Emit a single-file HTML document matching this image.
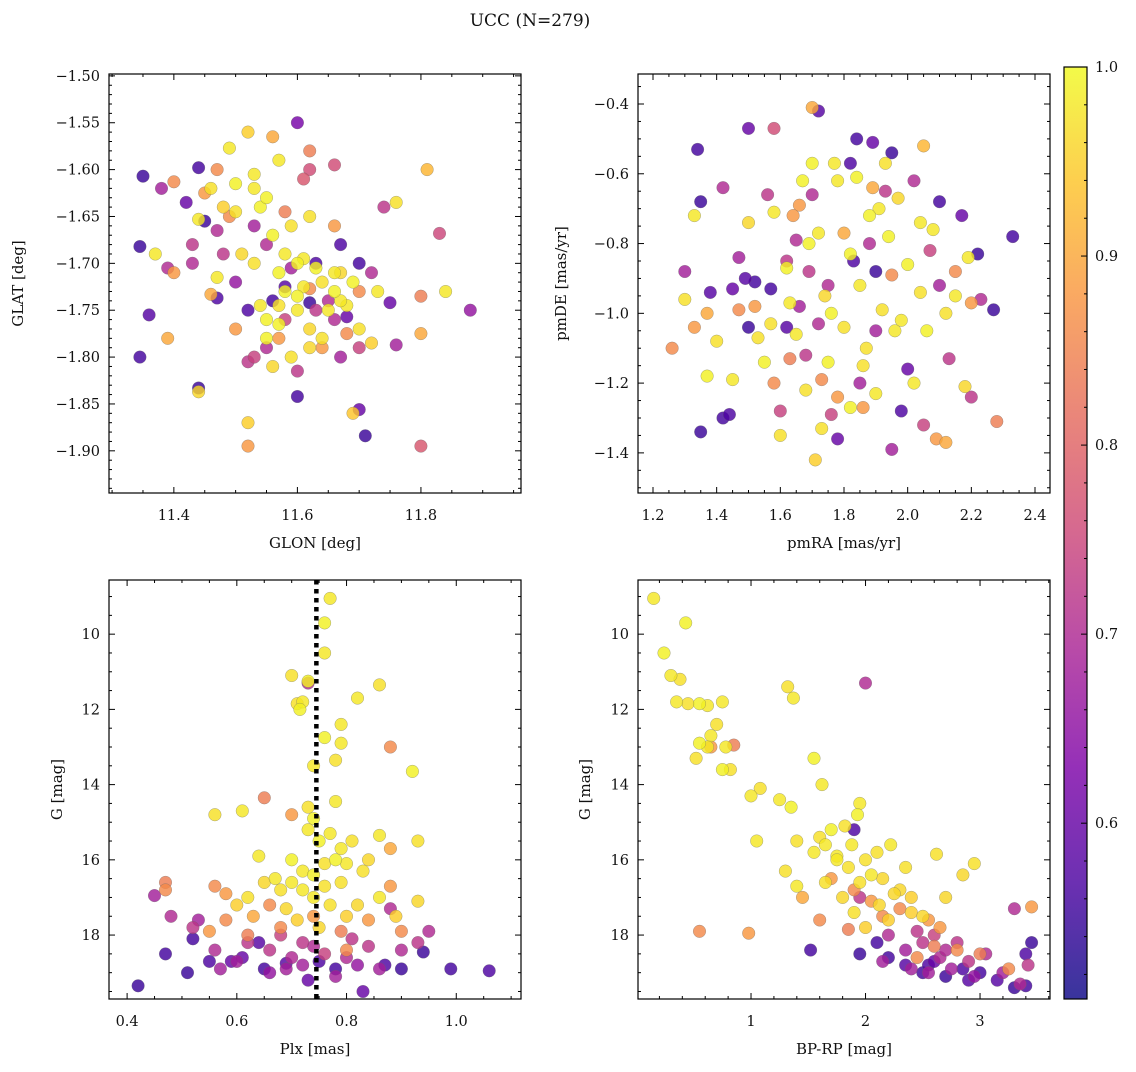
<!DOCTYPE html>
<html><head><meta charset="utf-8"><style>
html,body{margin:0;padding:0;background:#fff}
svg text{font-family:"DejaVu Serif","Liberation Serif",serif;fill:#111}
</style></head><body>
<svg id="chart" width="1136" height="1067" viewBox="0 0 1136 1067" xmlns="http://www.w3.org/2000/svg">
<text x="530" y="26" font-size="17" text-anchor="middle">UCC (N=279)</text>
</svg>
<script>
// ---- data: [x, y, membership probability] ----
const glonGlat = [
[11.35,-1.607,.55],[11.44,-1.598,.56],[11.345,-1.682,.55],[11.345,-1.80,.56],[11.36,-1.755,.58],[11.44,-1.833,.55],[11.47,-1.737,.57],[11.45,-1.655,.55],[11.42,-1.635,.6],[11.6,-1.842,.56],[11.71,-1.884,.55],[11.70,-1.856,.6],[11.67,-1.68,.57],[11.75,-1.742,.6],[11.88,-1.75,.66],[11.60,-1.55,.62],[11.62,-1.742,.55],[11.58,-1.725,.58],[11.52,-1.75,.57],[11.68,-1.757,.6],[11.70,-1.70,.56],[11.63,-1.70,.57],[11.56,-1.74,.56],
[11.38,-1.62,.68],[11.39,-1.705,.7],[11.43,-1.68,.72],[11.47,-1.665,.7],[11.50,-1.72,.66],[11.53,-1.80,.74],[11.55,-1.79,.7],[11.60,-1.815,.72],[11.62,-1.60,.76],[11.65,-1.74,.7],[11.67,-1.80,.68],[11.70,-1.79,.74],[11.72,-1.71,.7],[11.74,-1.64,.72],[11.76,-1.787,.68],[11.83,-1.668,.75],[11.80,-1.895,.78],[11.66,-1.595,.76],[11.55,-1.68,.7],[11.63,-1.75,.72],[11.58,-1.76,.74],[11.53,-1.66,.68],[11.48,-1.69,.72],[11.61,-1.61,.78],[11.66,-1.76,.7],[11.59,-1.705,.68],[11.52,-1.805,.72],[11.43,-1.70,.7],
[11.40,-1.613,.86],[11.40,-1.71,.88],[11.39,-1.78,.9],[11.45,-1.625,.88],[11.47,-1.60,.86],[11.52,-1.895,.88],[11.56,-1.565,.9],[11.62,-1.58,.84],[11.66,-1.66,.88],[11.68,-1.775,.86],[11.80,-1.735,.84],[11.80,-1.775,.9],[11.81,-1.60,.92],[11.62,-1.727,.86],[11.50,-1.77,.88],[11.58,-1.645,.84],[11.46,-1.733,.9],[11.70,-1.73,.86],[11.64,-1.79,.88],[11.49,-1.65,.86],[11.57,-1.78,.88],
[11.37,-1.69,.98],[11.44,-1.653,.98],[11.44,-1.837,.96],[11.46,-1.62,.97],[11.48,-1.64,.95],[11.49,-1.577,.98],[11.50,-1.615,.99],[11.52,-1.56,.95],[11.53,-1.605,.98],[11.54,-1.64,.99],[11.53,-1.70,.97],[11.54,-1.745,.98],[11.55,-1.78,.99],[11.56,-1.81,.96],[11.57,-1.71,.99],[11.58,-1.69,.98],[11.59,-1.66,.97],[11.60,-1.70,.99],[11.61,-1.725,.98],[11.62,-1.77,.96],[11.63,-1.705,.99],[11.64,-1.72,.97],[11.65,-1.75,.98],[11.66,-1.73,.99],[11.67,-1.71,.96],[11.68,-1.745,.98],[11.69,-1.72,.99],[11.70,-1.77,.97],[11.72,-1.785,.95],[11.73,-1.73,.98],[11.76,-1.635,.97],[11.84,-1.73,.98],[11.52,-1.87,.95],[11.69,-1.86,.94],[11.55,-1.76,.99],[11.57,-1.59,.98],[11.62,-1.65,.97],[11.58,-1.73,.99],[11.60,-1.75,.98],[11.56,-1.67,.99],[11.51,-1.69,.96],[11.64,-1.78,.97],[11.47,-1.715,.98],[11.59,-1.80,.97],[11.60,-1.735,.99],[11.61,-1.695,.98],[11.57,-1.745,.97],[11.66,-1.71,.98],[11.55,-1.63,.99],[11.50,-1.645,.97],[11.53,-1.62,.98],[11.57,-1.765,.99],[11.62,-1.79,.96],[11.67,-1.74,.98]];
const pmraPmde = [
[1.34,-0.53,.56],[1.35,-0.68,.55],[1.38,-0.94,.58],[1.35,-1.34,.55],[1.42,-1.30,.56],[1.44,-1.29,.57],[1.50,-1.04,.55],[1.49,-0.90,.58],[1.50,-0.47,.6],[1.52,-0.91,.56],[1.72,-0.42,.58],[1.84,-0.50,.56],[1.89,-0.51,.6],[1.95,-0.54,.55],[1.83,-0.85,.57],[1.78,-1.36,.6],[1.90,-0.88,.55],[1.98,-1.28,.57],[2.10,-0.68,.56],[2.17,-0.72,.6],[2.22,-0.83,.55],[2.33,-0.78,.56],[2.27,-0.99,.55],[1.62,-1.04,.58],[1.57,-0.93,.56],[1.45,-0.93,.6],[1.82,-0.57,.57],[2.00,-1.16,.6],
[1.30,-0.88,.68],[1.42,-0.64,.7],[1.58,-0.47,.76],[1.56,-0.66,.72],[1.65,-0.79,.7],[1.66,-0.98,.68],[1.69,-0.88,.72],[1.72,-1.03,.7],[1.76,-1.29,.74],[1.85,-1.20,.68],[1.93,-0.65,.72],[2.02,-0.62,.7],[2.07,-0.82,.74],[2.10,-0.92,.68],[2.20,-1.24,.72],[2.23,-0.96,.7],[1.95,-1.39,.68],[1.60,-1.28,.74],[1.75,-0.92,.7],[1.62,-0.85,.72],[1.90,-1.05,.68],[2.05,-1.32,.74],[2.13,-1.13,.72],[1.70,-0.66,.7],[1.47,-0.84,.68],[1.88,-0.80,.7],[1.68,-1.12,.72],
[1.26,-1.10,.86],[1.33,-1.04,.88],[1.37,-1.00,.9],[1.47,-0.99,.86],[1.52,-0.98,.88],[1.58,-1.20,.86],[1.63,-1.13,.84],[1.66,-0.69,.88],[1.70,-0.41,.9],[1.86,-1.27,.88],[1.89,-0.64,.9],[2.05,-0.52,.92],[2.09,-1.36,.88],[2.12,-1.37,.9],[2.15,-0.88,.86],[2.20,-0.97,.88],[2.28,-1.31,.84],[1.95,-0.89,.86],[1.78,-1.24,.88],[1.80,-0.77,.9],[1.64,-0.72,.88],[1.73,-1.19,.86],
[1.30,-0.96,.97],[1.33,-0.72,.98],[1.37,-1.18,.99],[1.40,-1.08,.97],[1.45,-1.19,.98],[1.50,-0.74,.96],[1.55,-1.14,.99],[1.58,-0.71,.98],[1.60,-1.35,.97],[1.62,-0.87,.99],[1.65,-1.06,.98],[1.68,-1.22,.97],[1.70,-0.57,.99],[1.72,-0.77,.98],[1.74,-0.95,.96],[1.75,-1.14,.99],[1.78,-0.62,.98],[1.80,-1.04,.97],[1.82,-0.83,.99],[1.85,-0.92,.98],[1.87,-1.10,.97],[1.88,-0.72,.99],[1.90,-1.23,.98],[1.92,-0.99,.97],[1.94,-0.78,.99],[1.96,-1.05,.98],[1.97,-0.67,.96],[2.00,-0.86,.99],[2.02,-1.20,.98],[2.04,-0.94,.97],[2.06,-1.05,.99],[2.08,-0.76,.98],[2.12,-1.00,.97],[2.15,-0.95,.98],[2.18,-1.21,.96],[2.19,-0.84,.98],[1.71,-1.42,.95],[1.73,-1.33,.97],[1.77,-0.57,.98],[1.84,-0.61,.99],[1.93,-0.57,.97],[1.63,-0.97,.98],[1.67,-0.62,.99],[1.98,-1.02,.98],[1.53,-1.07,.97],[1.82,-1.27,.99],[2.04,-0.74,.98],[1.76,-1.00,.99],[1.86,-1.15,.97],[1.91,-0.70,.98],[1.69,-0.80,.99],[1.57,-1.03,.97]];
const plxG = [
[0.77,9.05,.98],[0.76,9.7,.99],[0.76,10.5,.98],[0.70,11.1,.97],[0.73,11.25,.99],[0.72,11.8,.98],[0.71,11.85,.97],[0.715,12.0,.99],[0.82,11.7,.98],[0.86,11.35,.97],[0.79,12.4,.98],[0.76,12.75,.99],[0.79,12.9,.98],[0.78,13.35,.97],[0.92,13.65,.99],[0.74,13.5,.98],[0.73,14.6,.97],[0.78,14.45,.98],[0.74,14.9,.99],[0.61,14.7,.98],[0.56,14.8,.97],[0.73,15.2,.98],[0.75,15.5,.99],[0.79,15.7,.98],[0.81,15.5,.97],[0.86,15.35,.98],[0.93,15.5,.97],[0.70,16.0,.99],[0.72,16.3,.98],[0.76,16.1,.97],[0.78,16.0,.99],[0.80,16.1,.98],[0.83,16.3,.97],[0.67,16.5,.98],[0.65,16.6,.96],[0.62,17.0,.97],[0.60,17.2,.95],[0.69,17.3,.96],[0.74,17.0,.98],[0.77,17.2,.97],[0.82,17.2,.96],[0.86,17.0,.98],[0.89,17.5,.95],[0.93,17.1,.96],[0.72,16.8,.98],[0.76,16.7,.97],[0.71,17.6,.95],[0.75,17.8,.96],[0.80,17.5,.95],[0.68,16.8,.97],[0.64,15.9,.98],[0.77,15.3,.98],[0.74,16.4,.99],[0.79,16.6,.97],[0.70,16.6,.98],[0.84,16.0,.96],
[0.88,13.0,.86],[0.65,14.35,.84],[0.70,14.8,.88],[0.56,16.7,.86],[0.47,16.6,.84],[0.47,16.8,.86],[0.58,16.9,.88],[0.58,17.6,.86],[0.63,17.5,.9],[0.68,17.8,.86],[0.88,16.7,.88],[0.88,15.7,.9],[0.84,17.6,.88],[0.90,17.9,.86],[0.55,17.9,.88],[0.62,18.0,.84],[0.80,18.4,.86],[0.74,17.5,.88],[0.66,17.2,.86],[0.79,17.9,.84],
[0.73,11.3,.7],[0.45,16.95,.68],[0.48,17.5,.7],[0.52,17.8,.72],[0.56,18.4,.7],[0.60,18.7,.68],[0.66,18.4,.72],[0.70,18.6,.7],[0.72,18.8,.68],[0.76,18.5,.74],[0.80,18.6,.7],[0.84,18.3,.72],[0.86,18.9,.68],[0.90,18.4,.7],[0.93,18.2,.72],[0.95,17.9,.7],[0.78,19.1,.68],[0.68,18.0,.74],[0.62,18.2,.72],[0.88,17.3,.7],[0.53,17.6,.68],[0.72,18.2,.72],[0.82,18.8,.66],[0.57,18.9,.68],[0.66,19.0,.66],[0.74,18.3,.7],[0.81,18.1,.72],[0.69,18.9,.68],
[0.42,19.35,.55],[0.47,18.5,.56],[0.51,19.0,.55],[0.55,18.7,.57],[0.61,18.6,.6],[0.65,18.9,.56],[0.69,18.75,.58],[0.73,19.2,.6],[0.78,18.9,.56],[0.83,19.5,.6],[0.87,18.8,.57],[0.94,18.45,.55],[0.99,18.9,.56],[1.06,18.95,.57],[0.90,18.9,.55],[0.64,18.2,.58],[0.52,18.1,.56],[0.75,18.7,.57],[0.59,18.7,.6]];
const bprpG = [
[0.15,9.05,.98],[0.24,10.5,.99],[0.3,11.1,.98],[0.38,11.2,.97],[0.43,9.7,.99],[0.35,11.8,.98],[0.45,11.85,.97],[0.55,11.85,.99],[0.62,11.9,.98],[0.70,12.4,.97],[0.75,11.8,.98],[0.55,12.9,.99],[0.65,12.7,.98],[0.52,13.3,.97],[0.62,13.0,.98],[0.75,13.6,.99],[0.78,13.0,.98],[0.82,13.6,.97],[1.0,14.3,.98],[1.08,14.1,.97],[1.25,14.4,.98],[1.35,14.6,.99],[1.37,11.7,.98],[1.32,11.4,.97],[1.62,14.0,.98],[1.40,15.5,.97],[1.55,13.3,.99],[1.55,15.8,.98],[1.60,15.4,.97],[1.70,15.2,.99],[1.75,15.9,.98],[1.82,15.1,.97],[1.88,15.6,.98],[1.93,14.8,.99],[1.95,14.5,.98],[2.00,16.0,.97],[2.05,16.4,.98],[2.10,15.8,.97],[2.15,16.5,.96],[2.22,15.6,.98],[2.30,16.8,.96],[2.35,16.2,.97],[2.40,17.0,.95],[2.50,17.5,.96],[2.62,15.85,.97],[2.85,16.4,.96],[2.95,16.1,.97],[1.40,16.7,.98],[1.65,16.6,.97],[1.80,17.0,.96],[1.90,17.4,.97],[2.00,17.8,.95],[2.12,17.2,.96],[2.20,17.6,.95],[1.05,15.5,.98],[1.30,16.3,.97],[1.75,16.0,.98],[2.70,17.0,.96],[1.65,15.6,.98],[1.85,16.2,.97],[2.25,16.9,.96],[2.40,17.4,.95],[1.95,16.6,.97],
[0.55,17.9,.86],[0.65,13.0,.88],[0.85,12.95,.84],[0.98,17.95,.88],[1.45,17.0,.9],[1.60,17.6,.86],[1.70,16.5,.88],[1.90,16.8,.86],[2.05,17.1,.88],[2.30,17.3,.86],[2.55,17.6,.88],[2.80,18.4,.86],[3.45,17.25,.88],[1.85,17.85,.84],[2.45,18.6,.86],[3.0,18.5,.84],[3.25,18.9,.86],[2.65,17.8,.88],[2.15,17.5,.86],[2.60,18.3,.84],
[2.0,11.3,.7],[1.95,17.0,.72],[2.20,18.0,.7],[2.35,18.4,.68],[2.50,18.2,.72],[2.65,18.6,.7],[2.75,18.9,.68],[2.90,18.7,.72],[3.05,18.5,.7],[3.20,19.0,.68],[3.35,19.3,.7],[3.42,18.8,.72],[2.40,18.9,.68],[2.60,18.0,.74],[2.80,18.2,.72],[3.30,17.3,.7],[2.15,18.7,.68],[2.95,19.1,.66],[2.55,19.0,.68],[2.70,18.4,.7],[2.45,17.9,.72],
[1.52,18.4,.56],[1.90,15.2,.57],[1.95,18.5,.55],[2.10,18.2,.56],[2.35,18.8,.58],[2.50,19.0,.56],[2.60,18.7,.6],[2.70,19.1,.55],[2.85,18.9,.57],[3.0,19.0,.56],[3.15,19.2,.58],[3.30,19.4,.55],[3.40,19.35,.56],[3.45,18.2,.55],[3.4,18.5,.57],[2.20,18.6,.56],[2.90,19.2,.58],[2.55,18.8,.57]];
const plxMedian = [0.745];
const cbTicks = [0.6,0.7,0.8,0.9,1.0];

const NS="http://www.w3.org/2000/svg";
const svg=document.getElementById('chart');
function el(tag,attrs,parent){const e=document.createElementNS(NS,tag);for(const k in attrs)e.setAttribute(k,attrs[k]);(parent||svg).appendChild(e);return e;}
const stops=[[0,[13,8,135]],[.125,[76,2,161]],[.25,[126,3,168]],[.375,[169,35,149]],[.5,[204,71,120]],[.625,[229,107,93]],[.75,[248,148,65]],[.875,[253,195,40]],[1,[240,249,33]]];
const VMIN=0.507,VMAX=1.0;
function plasma(t){t=Math.max(0,Math.min(1,t));for(let i=1;i<stops.length;i++){if(t<=stops[i][0]){const a=stops[i-1],b=stops[i];const f=(t-a[0])/(b[0]-a[0]);const c=a[1].map((v,j)=>Math.round(v+(b[1][j]-v)*f));return `rgb(${c[0]},${c[1]},${c[2]})`;}}return 'rgb(240,249,33)';}
function cmap(v){return plasma((v-VMIN)/(VMAX-VMIN));}
function fmt(v,d){return v.toFixed(d).replace('-','\u2212');}

function panel(cfg){
  const {L,T,W,H,xmin,xmax,ymin,ymax,yrev,name}=cfg;
  const g=el('g',{});
  
  
  const sx=v=>L+(v-xmin)/(xmax-xmin)*W;
  const sy=v=>yrev?T+(v-ymin)/(ymax-ymin)*H:T+H-(v-ymin)/(ymax-ymin)*H;
  const pts=el('g',{},g);
  
  
  const sorted=cfg.data.slice().sort((a,b)=>a[2]-b[2]);
  for(const p of sorted){
    const c=el('circle',{cx:sx(p[0]).toFixed(1),cy:sy(p[1]).toFixed(1),r:6.3,fill:cmap(p[2]),'fill-opacity':0.82,stroke:'#666','stroke-width':0.4,'stroke-opacity':0.7},pts);
    
    
  }
  if(cfg.extra)cfg.extra(g,sx,sy);
  const fr=el('rect',{x:L,y:T,width:W,height:H,fill:'none',stroke:'#000','stroke-width':1.2},g);
  
  
  const tk=el('g',{stroke:'#000','stroke-width':1},g);
  const eps=1e-9;
  for(let v=Math.ceil((xmin-eps)/cfg.xminor)*cfg.xminor;v<=xmax+eps;v+=cfg.xminor){
    const x=sx(v);const major=Math.abs(v/cfg.xmajor-Math.round(v/cfg.xmajor))<1e-6;const len=major?6:3;
    el('line',{x1:x,x2:x,y1:T+H,y2:T+H-len},tk);el('line',{x1:x,x2:x,y1:T,y2:T+len},tk);
  }
  for(let v=Math.ceil((ymin-eps)/cfg.yminor)*cfg.yminor;v<=ymax+eps;v+=cfg.yminor){
    const y=sy(v);const major=Math.abs(v/cfg.ymajor-Math.round(v/cfg.ymajor))<1e-6;const len=major?6:3;
    el('line',{x1:L,x2:L+len,y1:y,y2:y},tk);el('line',{x1:L+W,x2:L+W-len,y1:y,y2:y},tk);
  }
  for(const v of cfg.xlabels){const t=el('text',{x:sx(v),y:T+H+27,'font-size':14.5,'text-anchor':'middle'},g);t.textContent=fmt(v,cfg.xdec);}
  for(const v of cfg.ylabels){const t=el('text',{x:L-9,y:sy(v)+5,'font-size':14.5,'text-anchor':'end'},g);t.textContent=fmt(v,cfg.ydec);}
  const xt=el('text',{x:L+W/2,y:T+H+55,'font-size':15,'text-anchor':'middle'},g);xt.textContent=cfg.xtitle;
  
  const yx=cfg.ytitleX;const yc=T+H/2;
  const yt=el('text',{x:yx,y:yc,'font-size':15,'text-anchor':'middle',transform:`rotate(-90 ${yx} ${yc})`},g);yt.textContent=cfg.ytitle;
  
}

panel({name:'glon-glat-panel',L:109,T:74,W:412,H:419,xmin:11.295,xmax:11.962,ymin:-1.945,ymax:-1.498,data:glonGlat,
  xmajor:0.2,xminor:0.05,ymajor:0.05,yminor:0.01,xlabels:[11.4,11.6,11.8],xdec:1,ylabels:[-1.9,-1.85,-1.8,-1.75,-1.7,-1.65,-1.6,-1.55,-1.5],ydec:2,
  xtitle:'GLON [deg]',ytitle:'GLAT [deg]',ytitleX:23});
panel({name:'pm-panel',L:638,T:74,W:412,H:419,xmin:1.1529,xmax:2.4471,ymin:-1.515,ymax:-0.314,data:pmraPmde,
  xmajor:0.2,xminor:0.05,ymajor:0.2,yminor:0.05,xlabels:[1.2,1.4,1.6,1.8,2.0,2.2,2.4],xdec:1,ylabels:[-1.4,-1.2,-1.0,-0.8,-0.6,-0.4],ydec:1,
  xtitle:'pmRA [mas/yr]',ytitle:'pmDE [mas/yr]',ytitleX:566});
panel({name:'plx-g-panel',L:109,T:580,W:412,H:419,xmin:0.367,xmax:1.118,ymin:8.56,ymax:19.7,yrev:true,data:plxG,
  xmajor:0.2,xminor:0.05,ymajor:2,yminor:0.5,xlabels:[0.4,0.6,0.8,1.0],xdec:1,ylabels:[10,12,14,16,18],ydec:0,
  xtitle:'Plx [mas]',ytitle:'G [mag]',ytitleX:62,
  extra:(g,sx,sy)=>{for(const m of plxMedian){const l=el('line',{x1:sx(m),x2:sx(m),y1:580,y2:999,stroke:'#000','stroke-width':4.5,'stroke-dasharray':'4.5,4.5'},g);}}});
panel({name:'cmd-panel',L:638,T:580,W:412,H:419,xmin:0.013,xmax:3.611,ymin:8.56,ymax:19.7,yrev:true,data:bprpG,
  xmajor:1,xminor:0.2,ymajor:2,yminor:0.5,xlabels:[1,2,3],xdec:0,ylabels:[10,12,14,16,18],ydec:0,
  xtitle:'BP-RP [mag]',ytitle:'G [mag]',ytitleX:590});

const cb=el('g',{});


const CBT=67,CBB=999,CBL=1064,CBW=23;
const defs=el('defs',{},cb);
const grad=el('linearGradient',{id:'pl',x1:0,y1:1,x2:0,y2:0},defs);
for(const s of stops){el('stop',{offset:s[0],'stop-color':`rgb(${s[1].join(',')})`,'stop-opacity':0.82},grad);}
el('rect',{x:CBL,y:CBT,width:CBW,height:CBB-CBT,fill:'url(#pl)',stroke:'#000','stroke-width':1.2},cb);
const cy=v=>CBB-(v-VMIN)/(VMAX-VMIN)*(CBB-CBT);
for(let v=0.52;v<=1.0001;v+=0.02){const major=Math.abs(v*10-Math.round(v*10))<1e-6;el('line',{x1:CBL+CBW,x2:CBL+CBW-(major?6:3),y1:cy(v),y2:cy(v),stroke:'#000','stroke-width':1},cb);}
for(const v of cbTicks){const t=el('text',{x:CBL+CBW+8,y:cy(v)+5,'font-size':14.5},cb);t.textContent=v.toFixed(1);}
</script>
</body></html>
